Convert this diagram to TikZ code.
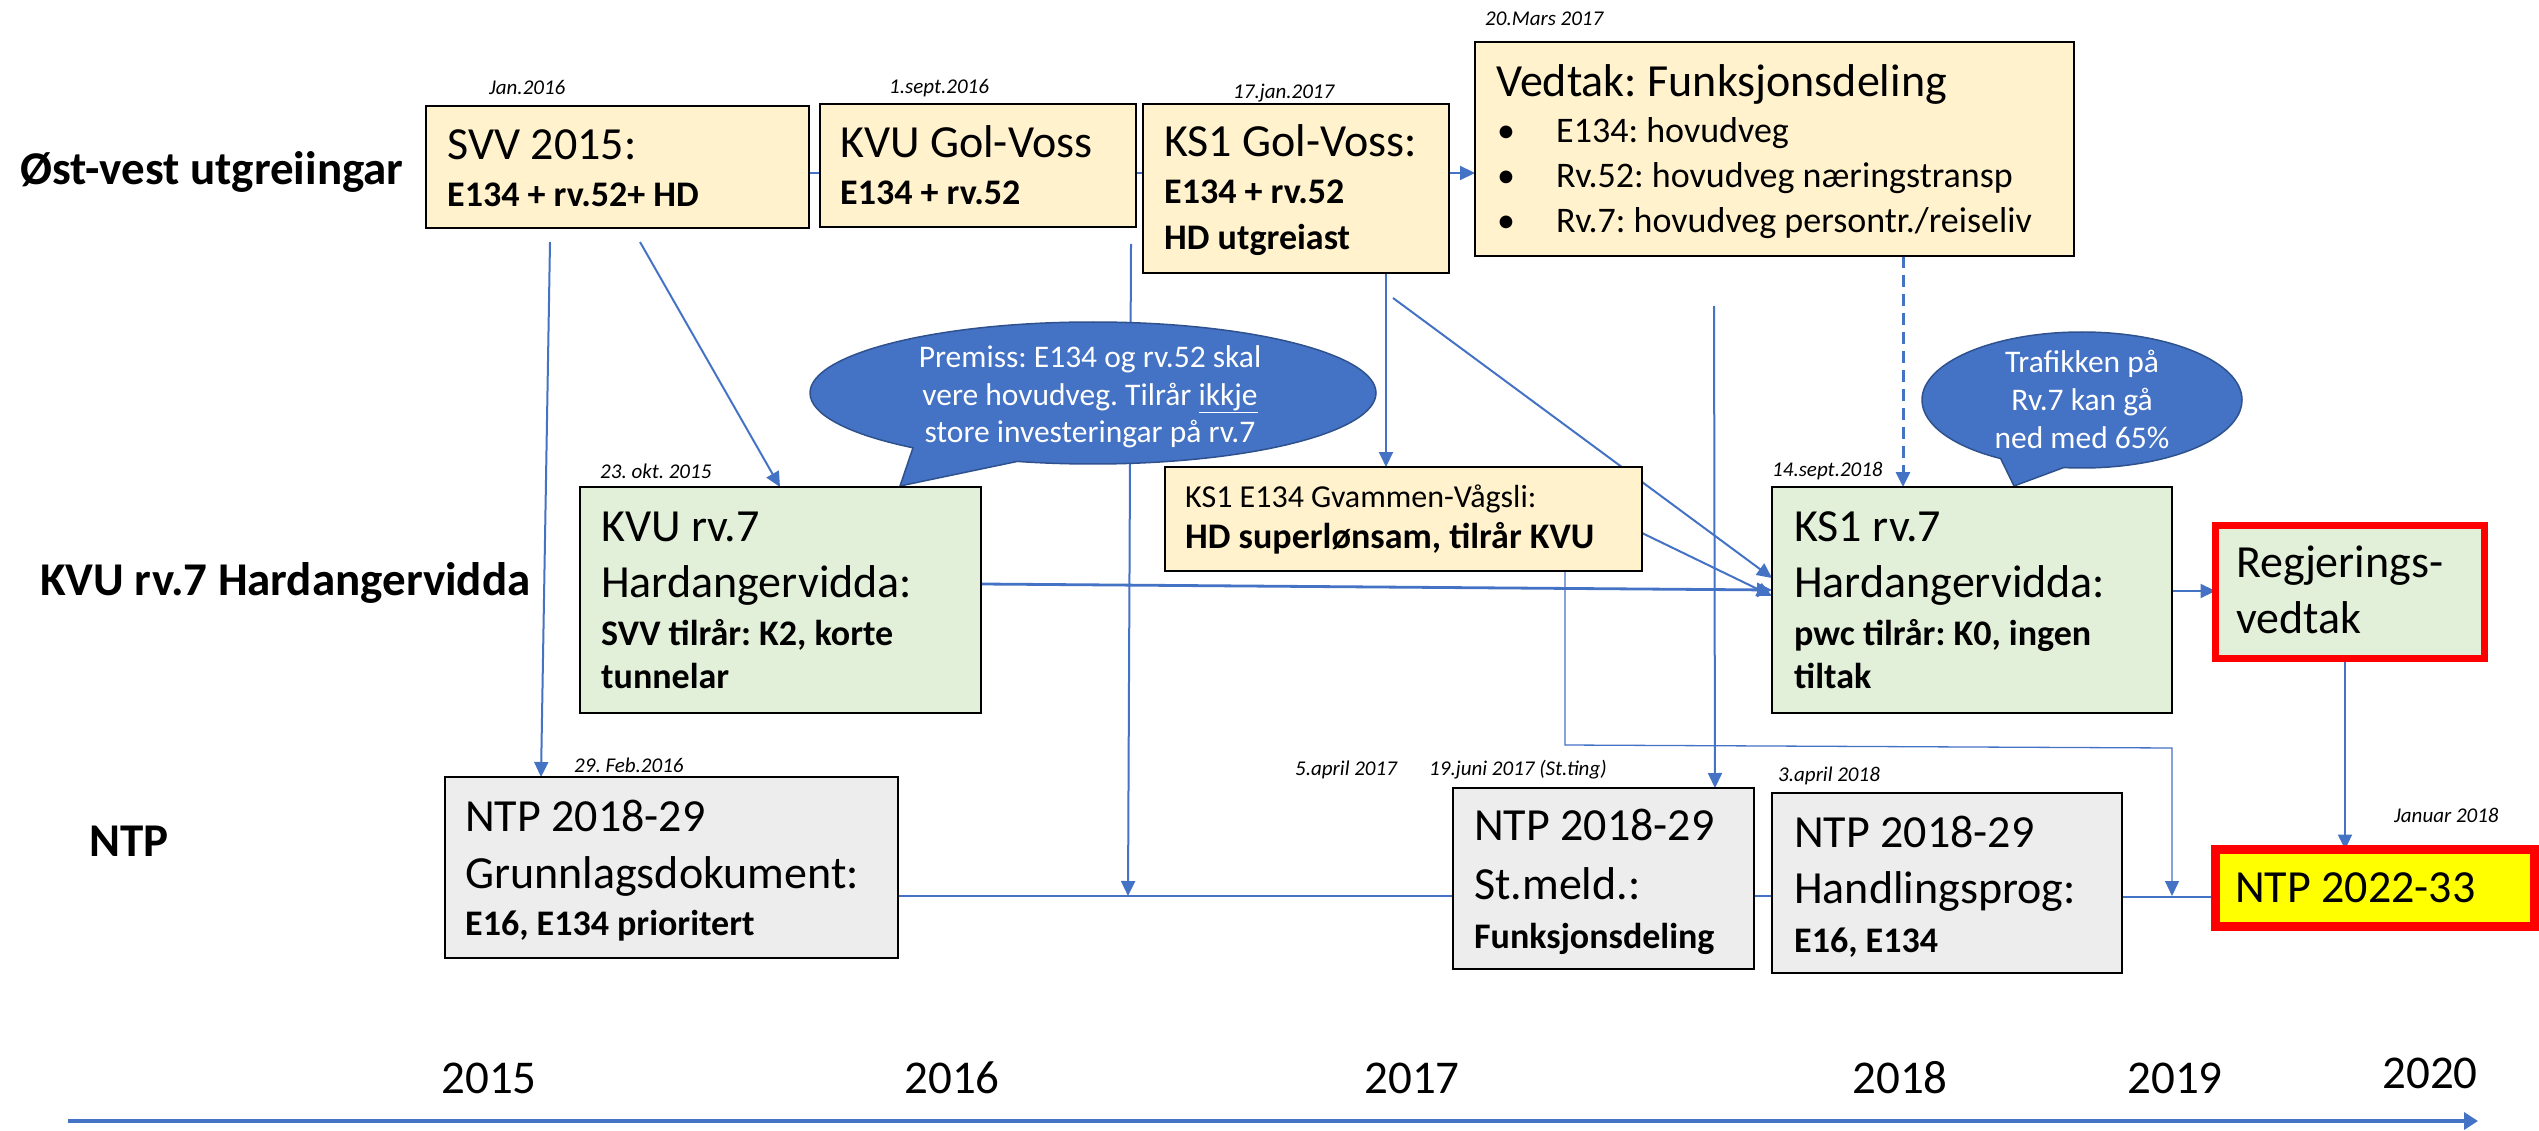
\documentclass[tikz,border=0pt]{standalone}
\usepackage{fontspec}
\setmainfont{Carlito}
\usetikzlibrary{arrows.meta,shapes.callouts}
\definecolor{bl}{HTML}{4472C4}
\definecolor{blo}{HTML}{2F528F}
\definecolor{yb}{HTML}{FFF2CC}
\definecolor{gb}{HTML}{E2F0D9}
\definecolor{grb}{HTML}{EDEDED}
\definecolor{rd}{HTML}{FF0000}
\definecolor{yy}{HTML}{FFFF00}
\pgfdeclarelayer{bg}
\pgfsetlayers{bg,main}
\frenchspacing
\begin{document}
\frenchspacing
\begin{tikzpicture}[x=1pt,y=-1pt,
 box/.style={draw=black, line width=2.2pt, inner sep=0pt, outer sep=0pt, anchor=north west},
 tx/.style={inner sep=0pt, anchor=base west, text=black},
 big/.style={tx, font=\fontsize{46}{50}\selectfont},
 sub/.style={tx, font=\bfseries\fontsize{36}{40}\selectfont},
 reg/.style={tx, font=\fontsize{36}{40}\selectfont},
 small/.style={tx, font=\fontsize{32}{36}\selectfont},
 date/.style={tx, font=\itshape\fontsize{21}{24}\selectfont},
 rowlab/.style={tx, font=\bfseries\fontsize{47}{50}\selectfont},
 year/.style={inner sep=0pt, anchor=base, font=\fontsize{47}{50}\selectfont},
 conn/.style={draw=bl, line width=2pt},
 arr/.style={conn, -{Triangle[length=15pt,width=14pt]}},
 callout/.style={ellipse callout, draw=blo, line width=1.5pt, fill=bl, inner sep=0pt, callout pointer arc=24},
 ctext/.style={inner sep=0pt, anchor=base, text=white, font=\fontsize{31.5}{36}\selectfont},
]
\useasboundingbox (0,0) rectangle (2539,1131);

% row labels
\node[rowlab] (row1) at (20,185) {Øst-vest utgreiingar};
\node[rowlab] (row2) at (40,595) {KVU rv.7 Hardangervidda};
\node[rowlab] (row3) at (89,856) {NTP};

% callouts
\node[callout, minimum width=566pt, minimum height=142pt, callout absolute pointer={(900,486)}] (premiss) at (1093,393) {};
\node[ctext] (premissA) at (1090,367) {Premiss: E134 og rv.52 skal};
\node[ctext] (premissB) at (1090,405) {vere hovudveg. Tilrår \underline{ikkje}};
\node[ctext] (premissC) at (1090,442) {store investeringar på rv.7};

\node[callout, minimum width=320pt, minimum height=136pt, callout absolute pointer={(2014,486)}] (traf) at (2082,400) {};
\node[ctext] (trafA) at (2082,372) {Trafikken på};
\node[ctext] (trafB) at (2082,410) {Rv.7 kan gå};
\node[ctext] (trafC) at (2082,448) {ned med 65\%};

% boxes
\node[box, fill=yb, minimum width=383pt, minimum height=122pt] (svv) at (426,106) {};
\node[box, fill=yb, minimum width=316pt, minimum height=123pt] (kvug) at (820,104) {};
\node[box, fill=yb, minimum width=306pt, minimum height=169pt] (ks1g) at (1143,104) {};
\node[box, fill=yb, minimum width=599pt, minimum height=214pt] (vedtak) at (1475,42) {};
\node[box, fill=yb, minimum width=477pt, minimum height=104pt] (gvam) at (1165,467) {};
\node[box, fill=gb, minimum width=401pt, minimum height=226pt] (kvu7) at (580,487) {};
\node[box, fill=gb, minimum width=400pt, minimum height=226pt] (ks17) at (1772,487) {};
\node[box, fill=gb, draw=rd, line width=7pt, minimum width=269pt, minimum height=133pt] (regj) at (2215.5,525.5) {};
\node[box, fill=grb, minimum width=453pt, minimum height=181pt] (ntpg) at (445,777) {};
\node[box, fill=grb, minimum width=301pt, minimum height=181pt] (stmeld) at (1453,788) {};
\node[box, fill=grb, minimum width=350pt, minimum height=180pt] (handl) at (1772,793) {};
\node[box, fill=yy, draw=rd, line width=9pt, minimum width=319pt, minimum height=77pt] (ntp22) at (2215.5,849.5) {};

% dates
\node[date] (d1) at (489,95) {Jan.2016};
\node[date] (d2) at (889,94) {1.sept.2016};
\node[date] (d3) at (1233,99) {17.jan.2017};
\node[date] (d4) at (1485,26) {20.Mars 2017};
\node[date] (d5) at (600,478) {23. okt. 2015};
\node[date] (d6) at (1772,476) {14.sept.2018};
\node[date] (d7) at (574,772) {29. Feb.2016};
\node[date] (d8) at (1295,775) {5.april 2017};
\node[date] (d9) at (1429,775) {19.juni 2017 (St.ting)};
\node[date] (d10) at (1778,781) {3.april 2018};
\node[date] (d11) at (2394,822) {Januar 2018};

% box texts
\node[big] (svvA) at (447,160) {SVV 2015:};
\node[sub] (svvB) at (447,207) {E134 + rv.52+ HD};
\node[big] (kvugA) at (840,158) {KVU Gol-Voss};
\node[sub] (kvugB) at (840,205) {E134 + rv.52};
\node[big] (ks1gA) at (1164,157) {KS1 Gol-Voss:};
\node[sub] (ks1gB) at (1164,204) {E134 + rv.52};
\node[sub] (ks1gC) at (1164,250) {HD utgreiast};
\node[big] (vedA) at (1496,97) {Vedtak: Funksjonsdeling};
\node[reg] (vedB0) at (1497,143) {•};
\node[reg] (vedB) at (1556,143) {E134: hovudveg};
\node[reg] (vedC0) at (1497,188) {•};
\node[reg] (vedC) at (1556,188) {Rv.52: hovudveg næringstransp};
\node[reg] (vedD0) at (1497,233) {•};
\node[reg] (vedD) at (1556,233) {Rv.7: hovudveg persontr./reiseliv};
\node[small] (gvamA) at (1185,507) {KS1 E134 Gvammen-Vågsli:};
\node[sub] (gvamB) at (1185,548) {HD superlønsam, tilrår KVU};
\node[big] (kvu7A) at (601,541) {KVU rv.7};
\node[big] (kvu7B) at (601,597) {Hardangervidda:};
\node[sub] (kvu7C) at (601,645) {SVV tilrår: K2, korte};
\node[sub] (kvu7D) at (601,688) {tunnelar};
\node[big] (ks17A) at (1794,541) {KS1 rv.7};
\node[big] (ks17B) at (1794,597) {Hardangervidda:};
\node[sub] (ks17C) at (1794,645) {pwc tilrår: K0, ingen};
\node[sub] (ks17D) at (1794,688) {tiltak};
\node[big] (regjA) at (2236,577) {Regjerings-};
\node[big] (regjB) at (2236,633) {vedtak};
\node[big] (ntpgA) at (465,831) {NTP 2018-29};
\node[big] (ntpgB) at (465,888) {Grunnlagsdokument:};
\node[sub] (ntpgC) at (465,935) {E16, E134 prioritert};
\node[big] (stA) at (1474,840) {NTP 2018-29};
\node[big] (stB) at (1474,899) {St.meld.:};
\node[sub] (stC) at (1474,948) {Funksjonsdeling};
\node[big] (haA) at (1794,847) {NTP 2018-29};
\node[big] (haB) at (1794,903) {Handlingsprog:};
\node[sub] (haC) at (1794,952) {E16, E134};
\node[big] (n22A) at (2235,902) {NTP 2022-33};

% years
\node[year] (y15) at (489,1093) {2015};
\node[year] (y16) at (952,1093) {2016};
\node[year] (y17) at (1412,1093) {2017};
\node[year] (y18) at (1900,1093) {2018};
\node[year] (y19) at (2175,1093) {2019};
\node[year] (y20) at (2430,1088) {2020};

% free ends
\coordinate (c1) at (550,242);
\coordinate (c2) at (640,242);
\coordinate (c3) at (1131,244);
\coordinate (c3e) at (1128,896);
\coordinate (c4) at (1393,298);
\coordinate (c5) at (1565,745);
\coordinate (c6) at (2172,748);
\coordinate (c6e) at (2172,896);
\coordinate (c7) at (1714,306);
\coordinate (t0) at (68,1121);
\coordinate (t1) at (2478,1121);

% connectors (behind the boxes and callouts)
\begin{pgfonlayer}{bg}
\draw[conn] (ntpg.east |- 0,896) -- (stmeld.west |- 0,896);
\draw[conn] (stmeld.east |- 0,896) -- (handl.west |- 0,896);
\draw[conn] (handl.east |- 0,897) -- (ntp22.west |- 0,897);
\draw[conn] (svv.east |- 0,173) -- (kvug.west |- 0,173);
\draw[conn] (kvug.east |- 0,173) -- (ks1g.west |- 0,173);
\draw[arr] (ks1g.east |- 0,173) -- (vedtak.west |- 0,173);
\draw[arr] (c1) -- (ntpg.north -| 541,0);
\draw[arr] (c2) -- (kvu7.north -| 780,0);
\draw[arr] (c3) -- (c3e);
\draw[arr] (ks1g.south -| 1386,0) -- (gvam.north -| 1386,0);
\draw[arr] (c4) -- (ks17.west |- 0,578);
\draw[arr] (gvam.east |- 0,533) -- (ks17.west |- 0,596);
\draw[arr, line width=2.8pt] (kvu7.east |- 0,584) -- (ks17.west |- 0,590);
\draw[arr, line width=1.3pt] (gvam.south -| 1565,0) -- (c5) -- (c6) -- (c6e);
\draw[arr] (c7) -- (stmeld.north -| 1715,0);
\draw[arr, line width=3pt, dash pattern=on 12pt off 7pt] (vedtak.south -| 1903,0) -- (ks17.north -| 1903,0);
\draw[arr] (ks17.east |- 0,591) -- (regj.west |- 0,591);
\draw[arr] (regj.south -| 2345,0) -- (ntp22.north -| 2345,0);
\draw[draw=bl, line width=4.5pt, -{Triangle[length=14pt,width=17pt]}] (t0) -- (t1);
\end{pgfonlayer}
\end{tikzpicture}
\end{document}
